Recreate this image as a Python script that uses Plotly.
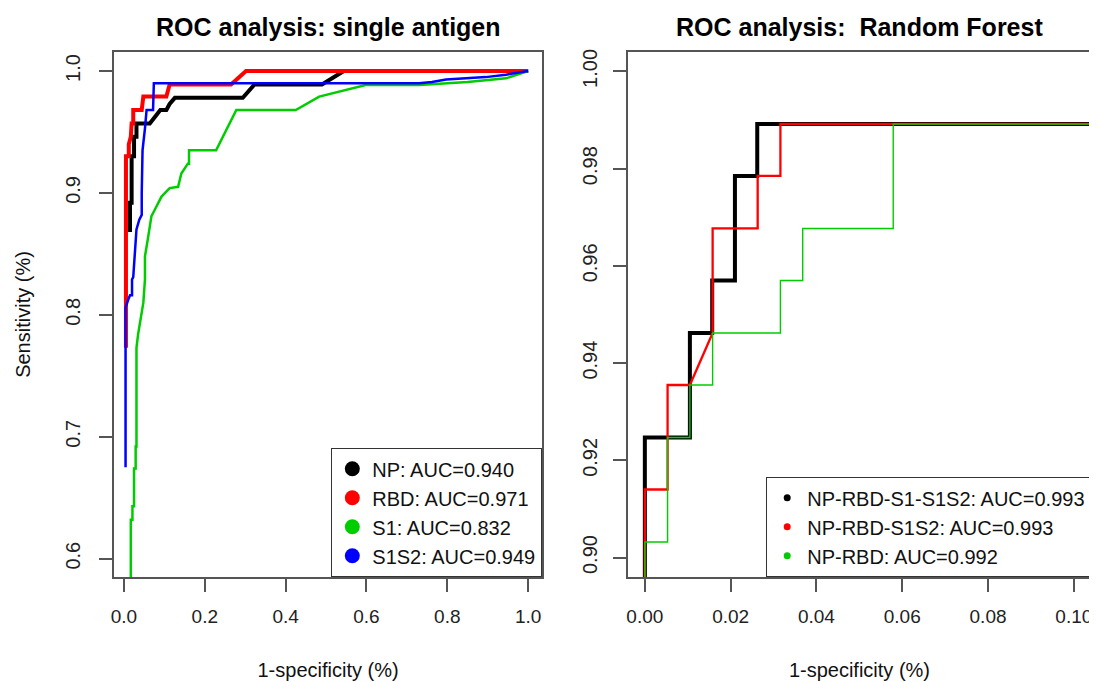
import plotly.graph_objects as go

# ---------------- data: single antigen ROC (1-specificity, sensitivity) ----------------
np_x = [0.015, 0.015, 0.019, 0.019, 0.025, 0.025, 0.031, 0.031, 0.064, 0.076, 0.090, 0.105,
        0.113, 0.126, 0.294, 0.323, 0.490, 0.544, 1.0]
np_y = [0.868, 0.892, 0.892, 0.930, 0.930, 0.946, 0.946, 0.957, 0.957, 0.962, 0.968, 0.968,
        0.973, 0.978, 0.978, 0.989, 0.989, 1.0, 1.0]

rbd_x = [0.005, 0.005, 0.012, 0.012, 0.017, 0.019, 0.023, 0.023, 0.044, 0.048, 0.105, 0.113,
         0.265, 0.302, 1.0]
rbd_y = [0.773, 0.930, 0.930, 0.940, 0.946, 0.957, 0.957, 0.968, 0.968, 0.979, 0.979, 0.989,
         0.989, 1.0, 1.0]

s1_x = [0.017, 0.017, 0.021, 0.021, 0.025, 0.025, 0.029, 0.029, 0.031, 0.031, 0.035, 0.039,
        0.044, 0.048, 0.052, 0.052, 0.060, 0.068, 0.076, 0.085, 0.093, 0.113, 0.134, 0.142,
        0.158, 0.161, 0.161, 0.228, 0.278, 0.425, 0.483, 0.598, 0.730, 0.850, 0.945, 1.0]
s1_y = [0.55, 0.632, 0.632, 0.643, 0.643, 0.674, 0.674, 0.692, 0.692, 0.773, 0.784, 0.793,
        0.801, 0.810, 0.829, 0.848, 0.864, 0.881, 0.886, 0.892, 0.897, 0.904, 0.905, 0.916,
        0.924, 0.924, 0.935, 0.935, 0.968, 0.968, 0.979, 0.9885, 0.9885, 0.991, 0.994, 1.0]

s1s2_x = [0.004, 0.004, 0.010, 0.015, 0.020, 0.020, 0.023, 0.027, 0.031, 0.038, 0.044, 0.044,
          0.046, 0.052, 0.056, 0.072, 0.074, 0.730, 0.762, 0.797, 0.846, 0.895, 0.945, 0.977, 1.0]
s1s2_y = [0.675, 0.806, 0.812, 0.816, 0.816, 0.829, 0.831, 0.853, 0.870, 0.878, 0.882, 0.900,
          0.935, 0.953, 0.968, 0.968, 0.990, 0.990, 0.991, 0.993, 0.994, 0.995, 0.997, 0.999, 1.0]

single_names = ["NP: AUC=0.940", "RBD: AUC=0.971", "S1: AUC=0.832", "S1S2: AUC=0.949"]
single_colors = ["#000000", "#FF0000", "#00CD00", "#0000FF"]
single_widths = [4, 4, 2.5, 2.5]

# ---------------- data: Random Forest ROC ----------------
rf4_x = [0, 0, 0.0105, 0.0105, 0.0157, 0.0157, 0.021, 0.021, 0.0262, 0.0262, 1.0]
rf4_y = [0.85, 0.9247, 0.9247, 0.9462, 0.9462, 0.957, 0.957, 0.9785, 0.9785, 0.9892, 0.9892]

rf3_x = [0, 0, 0.0053, 0.0053, 0.0105, 0.0158, 0.0158, 0.0263, 0.0263, 0.0316, 0.0316, 1.0]
rf3_y = [0.85, 0.9140, 0.9140, 0.9355, 0.9355, 0.9462, 0.9677, 0.9677, 0.9785, 0.9785, 0.9892, 0.9892]

rf2_x = [0, 0, 0.0053, 0.0053, 0.0105, 0.0105, 0.0158, 0.0158, 0.0316, 0.0316, 0.0368, 0.0368,
         0.0579, 0.0579, 1.0]
rf2_y = [0.85, 0.9032, 0.9032, 0.9247, 0.9247, 0.9355, 0.9355, 0.9462, 0.9462, 0.957, 0.957,
         0.9677, 0.9677, 0.9892, 0.9892]

rf_names = ["NP-RBD-S1-S1S2: AUC=0.993", "NP-RBD-S1S2: AUC=0.993", "NP-RBD: AUC=0.992"]
rf_colors = ["#000000", "#FF0000", "#00CD00"]
rf_widths = [4, 2.3, 1.4]

left_xticks = [0, 0.2, 0.4, 0.6, 0.8, 1.0]
left_xlabels = ["0.0", "0.2", "0.4", "0.6", "0.8", "1.0"]
left_yticks = [0.6, 0.7, 0.8, 0.9, 1.0]
left_ylabels = ["0.6", "0.7", "0.8", "0.9", "1.0"]
right_xticks = [0, 0.02, 0.04, 0.06, 0.08, 0.10]
right_xlabels = ["0.00", "0.02", "0.04", "0.06", "0.08", "0.10"]
right_yticks = [0.90, 0.92, 0.94, 0.96, 0.98, 1.00]
right_ylabels = ["0.90", "0.92", "0.94", "0.96", "0.98", "1.00"]

# ---------------- figure ----------------
fig = go.Figure()

single_series = [(np_x, np_y), (rbd_x, rbd_y), (s1_x, s1_y), (s1s2_x, s1s2_y)]
for (xs, ys), c, w in zip(single_series, single_colors, single_widths):
    fig.add_trace(go.Scatter(x=xs, y=ys, mode="lines", line=dict(color=c, width=w),
                             showlegend=False, hoverinfo="skip", xaxis="x", yaxis="y"))
for name, c in zip(single_names, single_colors):
    fig.add_trace(go.Scatter(x=[None], y=[None], mode="markers", name=name,
                             marker=dict(size=15, color=c), legend="legend",
                             xaxis="x", yaxis="y"))

rf_series = [(rf4_x, rf4_y), (rf3_x, rf3_y), (rf2_x, rf2_y)]
for (xs, ys), c, w in zip(rf_series, rf_colors, rf_widths):
    fig.add_trace(go.Scatter(x=xs, y=ys, mode="lines", line=dict(color=c, width=w),
                             showlegend=False, hoverinfo="skip", xaxis="x2", yaxis="y2"))
for name, c in zip(rf_names, rf_colors):
    fig.add_trace(go.Scatter(x=[None], y=[None], mode="markers", name=name,
                             marker=dict(size=7, color=c), legend="legend2",
                             xaxis="x2", yaxis="y2"))

axis_common = dict(showline=True, linecolor="#555555", linewidth=1.5, mirror=True,
                   ticks="outside", ticklen=13, tickwidth=1.5, tickcolor="#555555",
                   showgrid=False, zeroline=False)
xfont = dict(size=19, color="#222222")
yfont = dict(size=20, color="#222222")

# page body has an 8px margin, so the figure is sized/offset to land on the reference pixels
fig.update_layout(
    width=1089, height=674,
    margin=dict(l=106, r=4, t=44, b=105),
    paper_bgcolor="white", plot_bgcolor="white",
    font=dict(family="Arial, Liberation Sans, sans-serif", color="#111111"),
    xaxis=dict(domain=[0, 0.4382], range=[-0.0246, 1.0346], tickvals=left_xticks,
               ticktext=left_xlabels, anchor="y", ticklabelstandoff=8, tickfont=xfont,
               title=dict(text="1-specificity (%)", font=dict(size=20), standoff=37),
               **axis_common),
    yaxis=dict(domain=[0, 1], range=[0.585, 1.0156], tickvals=left_yticks,
               ticktext=left_ylabels, tickangle=-90, anchor="x", ticklabelstandoff=11,
               tickfont=yfont,
               title=dict(text="Sensitivity (%)", font=dict(size=20), standoff=26),
               **axis_common),
    xaxis2=dict(domain=[0.526, 1], range=[-0.00395, 0.104], tickvals=right_xticks,
                ticktext=right_xlabels, anchor="y2", ticklabelstandoff=8, tickfont=xfont,
                title=dict(text="1-specificity (%)", font=dict(size=20), standoff=37),
                **axis_common),
    yaxis2=dict(domain=[0, 1], range=[0.896, 1.004], tickvals=right_yticks,
                ticktext=right_ylabels, tickangle=-90, anchor="x2", ticklabelstandoff=8,
                tickfont=yfont,
                **axis_common),
    legend=dict(x=0.4382, y=0, xanchor="right", yanchor="bottom", bgcolor="white",
                bordercolor="#333333", borderwidth=1.2, font=dict(size=20, color="#111111"),
                itemsizing="trace", tracegroupgap=0),
    legend2=dict(x=1.0, y=0, xanchor="right", yanchor="bottom", bgcolor="white",
                 bordercolor="#333333", borderwidth=1.2, font=dict(size=20, color="#111111"),
                 itemsizing="trace", tracegroupgap=0),
    annotations=[
        dict(text="<b>ROC analysis: single antigen</b>", x=0.2191, y=1.0476,
             xref="paper", yref="paper", xanchor="center", yanchor="middle",
             showarrow=False, font=dict(size=25, color="#000000")),
        dict(text="<b>ROC analysis:\u00a0 Random Forest</b>", x=0.763, y=1.0476,
             xref="paper", yref="paper", xanchor="center", yanchor="middle",
             showarrow=False, font=dict(size=25, color="#000000")),
    ],
)

fig.write_html("out.html")
